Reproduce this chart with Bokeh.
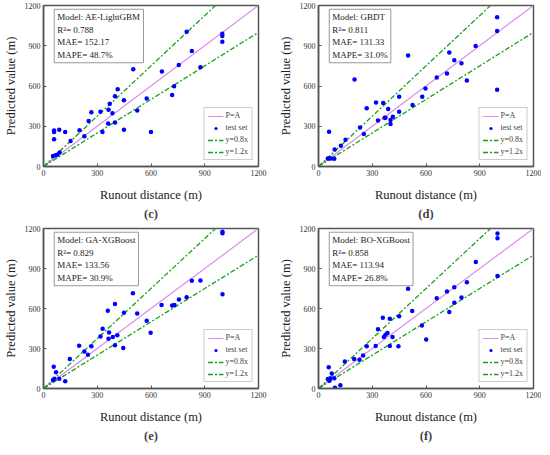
from bokeh.plotting import figure
from bokeh.layouts import gridplot
from bokeh.models import Range1d, FixedTicker, Legend, LegendItem, Label, Title
from bokeh.embed import file_html
from bokeh.resources import INLINE

FONT = "Liberation Serif"

ticks = [0, 300, 600, 900, 1200]
ref_x = [0, 1200]
pa_y = [0, 1200]
lower_y = [0, 1000]
upper_y = [0, 1500]

# Panel (c) AE-LightGBM
c_actual = [59, 59, 88, 121, 59, 151, 201, 228, 252, 267, 318, 329, 361, 363, 370, 385, 399, 399, 449, 449,
            53, 68, 77, 90, 414, 501, 523, 576, 600, 661, 718, 729, 755, 799, 828, 876, 998, 998, 998]
c_pred = [268, 257, 273, 257, 204, 190, 271, 226, 340, 404, 409, 257, 321, 423, 468, 397, 523, 328, 273, 494,
          78, 83, 88, 105, 575, 725, 418, 506, 257, 708, 532, 599, 756, 1005, 860, 739, 989, 972, 929]

# Panel (d) GBDT
d_actual = [59, 52, 61, 70, 88, 90, 125, 151, 201, 232, 253, 269, 321, 332, 361, 369, 374, 389, 402, 402,
            415, 450, 450, 525, 500, 579, 597, 660, 717, 730, 758, 798, 828, 877, 997, 997, 997]
d_pred = [259, 59, 62, 59, 57, 126, 154, 200, 648, 290, 242, 435, 477, 342, 473, 363, 363, 428, 347, 316,
          371, 520, 409, 458, 827, 520, 582, 663, 694, 850, 791, 770, 641, 898, 1112, 1010, 572]

# Panel (e) GA-XGBoost
e_actual = [57, 70, 53, 61, 88, 121, 147, 199, 228, 248, 267, 318, 330, 359, 366, 363, 387, 399, 399, 412,
            445, 449, 499, 523, 576, 598, 659, 718, 731, 756, 799, 828, 876, 999, 999, 999]
e_pred = [164, 121, 64, 74, 74, 55, 221, 321, 278, 254, 316, 390, 449, 584, 420, 373, 387, 634, 325, 399,
          304, 568, 715, 563, 508, 418, 627, 623, 627, 668, 684, 808, 810, 1176, 1164, 706]

# Panel (f) BO-XGBoost
f_actual = [57, 52, 61, 66, 74, 88, 92, 122, 147, 199, 229, 249, 269, 319, 332, 359, 365, 374, 385, 398,
            398, 413, 450, 446, 500, 523, 577, 601, 660, 717, 730, 758, 758, 798, 828, 878, 999, 999, 999]
f_pred = [159, 71, 59, 76, 112, 76, 5, 24, 202, 221, 216, 247, 316, 318, 444, 530, 387, 404, 416, 318,
          523, 387, 542, 316, 749, 582, 473, 368, 677, 727, 573, 760, 644, 682, 796, 948, 1162, 1126, 844]

models = ["AE-LightGBM", "GBDT", "GA-XGBoost", "BO-XGBoost"]
r2 = ["0.788", "0.811", "0.829", "0.858"]
mae = ["152.17", "131.33", "133.56", "113.94"]
mape = ["48.7%", "31.0%", "30.9%", "26.8%"]
captions = ["(c)", "(d)", "(e)", "(f)"]
x_title = "Runout distance (m)"
y_title = "Predicted value (m)"

VIOLET = "#DC8CEC"
GREEN = "#18A018"
BLUE = "#0000FF"
FRAME = "#555555"


def make_panel(xs, ys, idx, left, fw, fh, top_border, right_border):
    p = figure(frame_width=fw, frame_height=fh, output_backend="svg", toolbar_location=None,
               x_range=Range1d(0, 1200), y_range=Range1d(0, 1200),
               min_border_left=left, min_border_right=right_border,
               min_border_top=top_border, min_border_bottom=0,
               background_fill_color="white", border_fill_color="white")
    p.outline_line_color = FRAME
    p.outline_line_width = 1.5
    p.xgrid.visible = False
    p.ygrid.visible = False
    p.xaxis.ticker = FixedTicker(ticks=ticks)
    p.yaxis.ticker = FixedTicker(ticks=ticks)
    p.axis.axis_line_color = FRAME
    p.axis.axis_line_width = 1.5
    p.axis.major_tick_in = 3
    p.axis.major_tick_out = 0
    p.axis.major_tick_line_color = FRAME
    p.axis.minor_tick_line_color = None
    p.axis.major_label_text_font = FONT
    p.axis.major_label_text_font_size = "8px"
    p.axis.major_label_text_color = "#333333"
    p.axis.axis_label_text_font = FONT
    p.axis.axis_label_text_font_size = "12.5px"
    p.axis.axis_label_text_font_style = "normal"
    p.axis.axis_label_text_color = "#222222"
    p.axis.major_label_standoff = 3
    p.yaxis.axis_label_standoff = 4
    p.xaxis.axis_label_standoff = 9
    p.xaxis.axis_label = x_title
    p.yaxis.axis_label = y_title

    pa = p.line(ref_x, pa_y, line_color=VIOLET, line_width=1.2)
    lo = p.line(ref_x, lower_y, line_color=GREEN, line_width=1.3, line_dash="5 2 2 2")
    up = p.line(ref_x, upper_y, line_color=GREEN, line_width=1.3, line_dash="5 2 2 2")
    pts = p.scatter(xs, ys, size=4.5, fill_color=BLUE, line_color=None, marker="circle")

    legend = Legend(items=[LegendItem(label="P=A", renderers=[pa]),
                           LegendItem(label="test set", renderers=[pts]),
                           LegendItem(label="y=0.8x", renderers=[lo]),
                           LegendItem(label="y=1.2x", renderers=[up])],
                    location="bottom_right", label_text_font=FONT, label_text_font_size="8px",
                    glyph_width=16, glyph_height=8, label_height=8, spacing=3, padding=3,
                    margin=6, label_standoff=2, border_line_color="#999999",
                    background_fill_color="white", background_fill_alpha=1.0)
    p.add_layout(legend, "center")

    txt = "Model: %s\nR\u00b2= %s\nMAE= %s\nMAPE= %s" % (models[idx], r2[idx], mae[idx], mape[idx])
    lab = Label(x=60, y=1172, text=txt, anchor="top_left", text_font=FONT, text_font_size="9px",
                text_line_height=1.25, text_color="#222222", padding=3,
                border_line_color="#999999", border_line_width=1,
                background_fill_color="white", background_fill_alpha=1.0)
    p.add_layout(lab)

    cap = Title(text=captions[idx], align="center", text_font=FONT, text_font_size="12.5px",
                text_font_style="bold", standoff=1)
    p.add_layout(cap, "below")
    return p


pc = make_panel(c_actual, c_pred, 0, 33, 215, 161, 5, 17)
pd_ = make_panel(d_actual, d_pred, 1, 42, 215, 161, 5, 8)
pe = make_panel(e_actual, e_pred, 2, 33, 215, 160, 7, 17)
pf = make_panel(f_actual, f_pred, 3, 42, 215, 160, 7, 8)

grid = gridplot([[pc, pd_], [pe, pf]], toolbar_location=None)

open("out.html", "w").write(file_html(grid, INLINE))
